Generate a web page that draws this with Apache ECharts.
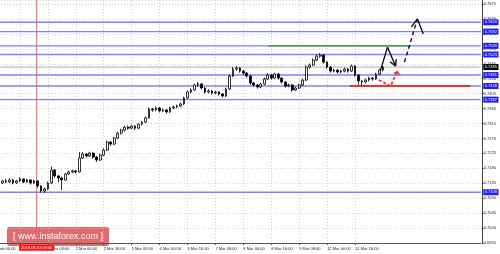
<!DOCTYPE html>
<html><head><meta charset="utf-8">
<script src="https://cdn.jsdelivr.net/npm/echarts@6/dist/echarts.min.js"></script>
<style>html,body{margin:0;padding:0;background:#fff;overflow:hidden;width:500px;height:254px}#c{position:absolute;left:-11px;top:0;width:511px;height:254px}</style>
</head><body><div id="c"></div>
<script>
// ---- data ----
const timeLabels = ['28 Feb 00:00','28 Feb 16:00','1 Mar 08:00','2 Mar 00:00','2 Mar 16:00','5 Mar 08:00','6 Mar 00:00','6 Mar 16:00','7 Mar 08:00','8 Mar 00:00','8 Mar 16:00','9 Mar 08:00','12 Mar 00:00','12 Mar 16:00'];
const barsPerLabel = 8;
const slotCount = 141;
// [open, close, low, high]
const ohlc = [
[0.7142,0.7139,0.7134,0.7146],[0.7139,0.7142,0.7135,0.7147],[0.7142,0.7136,0.7131,0.7145],[0.7136,0.7142,0.7133,0.7146],
[0.7142,0.7139,0.7135,0.7148],[0.7139,0.7145,0.7136,0.7150],[0.7145,0.7136,0.7132,0.7147],[0.7136,0.7142,0.7133,0.7145],
[0.7142,0.7148,0.7139,0.7153],[0.7148,0.7139,0.7135,0.7150],[0.7139,0.7145,0.7136,0.7149],[0.7145,0.7136,0.7131,0.7147],
[0.7136,0.7142,0.7133,0.7146],[0.7142,0.7127,0.7122,0.7144],[0.7127,0.7112,0.7107,0.7129],[0.7112,0.7118,0.7106,0.7122],
[0.7118,0.7136,0.7115,0.7140],[0.7136,0.7175,0.7133,0.7185],[0.7175,0.7157,0.7152,0.7178],[0.7157,0.7151,0.7138,0.7160],
[0.7151,0.7145,0.7114,0.7155],[0.7145,0.7163,0.7142,0.7166],[0.7163,0.7169,0.7160,0.7173],[0.7169,0.7172,0.7165,0.7176],
[0.7172,0.7169,0.7164,0.7175],[0.7169,0.7211,0.7167,0.7229],[0.7211,0.7223,0.7208,0.7229],[0.7223,0.7217,0.7212,0.7226],
[0.7217,0.7226,0.7214,0.7230],[0.7226,0.7214,0.7209,0.7228],[0.7214,0.7205,0.7199,0.7217],[0.7205,0.7220,0.7202,0.7224],
[0.7220,0.7235,0.7217,0.7240],[0.7235,0.7259,0.7232,0.7263],[0.7259,0.7253,0.7248,0.7262],[0.7253,0.7271,0.7250,0.7275],
[0.7271,0.7286,0.7268,0.7290],[0.7286,0.7295,0.7282,0.7299],[0.7295,0.7304,0.7291,0.7308],[0.7304,0.7301,0.7296,0.7309],
[0.7301,0.7307,0.7298,0.7311],[0.7307,0.7301,0.7295,0.7310],[0.7301,0.7313,0.7298,0.7316],[0.7313,0.7319,0.7309,0.7323],
[0.7319,0.7332,0.7316,0.7336],[0.7332,0.7359,0.7329,0.7364],[0.7359,0.7356,0.7350,0.7362],[0.7356,0.7362,0.7352,0.7366],
[0.7362,0.7353,0.7348,0.7365],[0.7353,0.7356,0.7349,0.7360],[0.7356,0.7350,0.7345,0.7359],[0.7350,0.7362,0.7347,0.7366],
[0.7362,0.7365,0.7358,0.7369],[0.7365,0.7368,0.7361,0.7372],[0.7368,0.7374,0.7364,0.7378],[0.7374,0.7392,0.7371,0.7396],
[0.7392,0.7410,0.7389,0.7414],[0.7410,0.7416,0.7406,0.7421],[0.7416,0.7431,0.7413,0.7435],[0.7431,0.7434,0.7426,0.7440],
[0.7434,0.7422,0.7418,0.7437],[0.7422,0.7410,0.7405,0.7425],[0.7410,0.7413,0.7406,0.7418],[0.7413,0.7407,0.7402,0.7416],
[0.7407,0.7410,0.7403,0.7414],[0.7410,0.7404,0.7399,0.7413],[0.7404,0.7398,0.7393,0.7407],[0.7398,0.7419,0.7395,0.7423],
[0.7419,0.7458,0.7416,0.7463],[0.7458,0.7479,0.7455,0.7485],[0.7479,0.7482,0.7474,0.7488],[0.7482,0.7473,0.7468,0.7485],
[0.7473,0.7467,0.7462,0.7476],[0.7467,0.7458,0.7453,0.7470],[0.7458,0.7437,0.7432,0.7461],[0.7437,0.7431,0.7426,0.7440],
[0.7431,0.7425,0.7420,0.7434],[0.7425,0.7434,0.7422,0.7438],[0.7434,0.7449,0.7431,0.7453],[0.7449,0.7461,0.7446,0.7467],
[0.7461,0.7452,0.7447,0.7464],[0.7452,0.7464,0.7449,0.7468],[0.7464,0.7452,0.7447,0.7467],[0.7452,0.7440,0.7435,0.7455],
[0.7440,0.7428,0.7423,0.7443],[0.7428,0.7431,0.7424,0.7435],[0.7431,0.7416,0.7411,0.7434],[0.7416,0.7422,0.7413,0.7426],
[0.7422,0.7431,0.7419,0.7435],[0.7431,0.7446,0.7428,0.7450],[0.7446,0.7485,0.7443,0.7490],[0.7485,0.7491,0.7481,0.7496],
[0.7491,0.7506,0.7488,0.7511],[0.7506,0.7518,0.7503,0.7524],[0.7518,0.7521,0.7513,0.7527],[0.7521,0.7500,0.7495,0.7524],
[0.7500,0.7485,0.7480,0.7503],[0.7485,0.7473,0.7468,0.7488],[0.7473,0.7476,0.7469,0.7480],[0.7476,0.7470,0.7465,0.7479],
[0.7470,0.7473,0.7466,0.7477],[0.7473,0.7479,0.7469,0.7483],[0.7479,0.7473,0.7468,0.7482],[0.7473,0.7488,0.7470,0.7493],
[0.7488,0.7461,0.7456,0.7491],[0.7461,0.7443,0.7432,0.7464],[0.7443,0.7440,0.7429,0.7446],[0.7440,0.7446,0.7436,0.7450],
[0.7446,0.7452,0.7442,0.7456],[0.7452,0.7449,0.7444,0.7455],[0.7449,0.7464,0.7446,0.7468],[0.7464,0.7476,0.7461,0.7480],
[0.7476,0.7485,0.7472,0.7489]
];
const levelLines = [0.7620, 0.7592, 0.7549, 0.7523, 0.7461, 0.7428, 0.7387, 0.7108];
const currentPrice = 0.7485;
const priceBase = 0.6955;
const priceStep = 0.0045;
const stepsShown = 16.27;
const resistanceLine = [[79, 0.7549], [120, 0.7549]];
const supportLine = [[102.5, 0.7428], [137, 0.7428]];
const crosshairIndex = 12.8;
const crosshairLabel = '2018.03.01 03:00';
const blackPath = [[111.3, 0.7476], [113.3, 0.7545], [115.6, 0.7488]];
const blackHead = [[114.0, 0.7501], [115.6, 0.7488], [115.8, 0.7509]];
const dashedPath = [[118.15, 0.7500], [121.8, 0.7628]];
const dashedHead = [[120.15, 0.7606], [121.86, 0.7630], [123.56, 0.7585]];
const redPath = [[110.8, 0.7446], [114.2, 0.7428], [116.1, 0.7471]];
const redHead = [[115.1, 0.7466], [116.1, 0.7471], [116.7, 0.7461]];

// ---- chart ----
const categories = Array.from({length: slotCount}, (_, i) =>
  (i % barsPerLabel === 0 && timeLabels[i / barsPerLabel]) ? timeLabels[i / barsPerLabel] : String(i));
const showTick = (i) => i % barsPerLabel === 0 && (i / barsPerLabel) < timeLabels.length;
const FONT = 'Liberation Sans';
const yTop = priceBase + priceStep * stepsShown;

function annot(data, color, width, type, z) {
  return { type: 'line', xAxisIndex: 1, yAxisIndex: 0, data: data, symbol: 'none', silent: true,
    lineStyle: { color: color, width: width, type: type }, itemStyle: { color: color },
    z: z == null ? 5 : z, animation: false };
}
function level(v, lineColor, boxColor, width) {
  const s = annot([[0, v], [slotCount - 1, v]], lineColor, width, 'solid', 1);
  s.endLabel = { show: true, distance: 2.5, formatter: () => v.toFixed(4), fontSize: 4, fontFamily: FONT,
    color: '#ffffff', backgroundColor: boxColor, padding: [1, 1.5, 0.5, 1.5], lineHeight: 4.5 };
  return s;
}

const crosshair = annot([[crosshairIndex, priceBase], [crosshairIndex, yTop]], '#e8605f', 1, 'solid', 2);
crosshair.markPoint = { symbol: 'rect', symbolSize: [0.1, 0.1], silent: true, animation: false,
  itemStyle: { color: 'rgba(0,0,0,0)' },
  data: [{ coord: [crosshairIndex, priceBase] }],
  label: { show: true, position: 'bottom', distance: 1.8, formatter: () => crosshairLabel, fontSize: 4, fontFamily: FONT,
    color: '#ffffff', backgroundColor: '#ff1010', padding: [1, 2, 0.5, 2], lineHeight: 4.5 } };

const chart = echarts.init(document.getElementById('c'), null, {renderer: 'canvas'});
chart.setOption({
  animation: false,
  backgroundColor: '#ffffff',
  grid: { left: 0, right: 19.25, top: 0, bottom: 11, containLabel: false },
  xAxis: [
    { type: 'category', data: categories, boundaryGap: false, position: 'bottom', offset: 3,
      axisLine: { lineStyle: { color: '#555', width: 1 } },
      axisTick: { show: true, interval: (i) => showTick(i), length: 2, lineStyle: { color: '#555' } },
      axisLabel: { interval: (i) => showTick(i), formatter: (v) => v, fontSize: 4, fontFamily: FONT,
        color: '#222', align: 'left', margin: 1 },
      splitLine: { show: true, interval: (i) => showTick(i), lineStyle: { color: '#c8c8c8', width: 0.8, type: [1, 2] } } },
    { type: 'value', min: 0, max: slotCount - 1, show: false }
  ],
  yAxis: [
    { type: 'value', min: priceBase, max: yTop, position: 'right',
      axisLine: { show: false }, axisTick: { show: false }, axisLabel: { show: false }, splitLine: { show: false } },
    { type: 'value', min: 0, max: stepsShown, interval: 1, position: 'right', offset: 1,
      axisLine: { show: true, lineStyle: { color: '#444', width: 1 } },
      axisTick: { show: true, length: 2, lineStyle: { color: '#444' } },
      axisLabel: { fontSize: 4, fontFamily: FONT, color: '#222', margin: 2, showMaxLabel: false,
        formatter: (v) => (priceBase + priceStep * v).toFixed(4) },
      splitLine: { show: true, lineStyle: { color: '#c8c8c8', width: 0.8, type: [1, 2] } } }
  ],
  series: [
    { type: 'candlestick', xAxisIndex: 0, yAxisIndex: 0, data: ohlc, barWidth: 2.2, z: 4,
      itemStyle: { color: '#ffffff', color0: '#000000', borderColor: '#000000', borderColor0: '#000000', borderWidth: 0.8 } },
    ...levelLines.map(v => level(v, '#7f7fff', '#1c1cff', 1.4)),
    level(currentPrice, '#9a9a9a', '#000000', 0.8),
    annot(resistanceLine, '#3aa83a', 1.5, 'solid', 3),
    crosshair,
    annot(supportLine, '#ee3030', 2.2, 'solid', 3),
    annot(blackPath, '#000000', 1.3, 'solid'),
    annot(blackHead, '#000000', 1.3, 'solid'),
    annot(dashedPath, '#000000', 1.3, [4, 3]),
    annot(dashedHead, '#000000', 1.3, 'solid'),
    annot(redPath, '#ff2a2a', 1.8, [3, 2]),
    annot(redHead, '#ff2a2a', 1.5, 'solid')
  ],
  graphic: [{ type: 'group', left: 18, top: 227, z: 100, children: [
    { type: 'rect', shape: { x: 0, y: 0, width: 102, height: 19, r: 2 }, style: { fill: 'rgba(214,48,48,0.72)' } },
    { type: 'text', x: 51, y: 10, style: { text: '[ www.instaforex.com ]', fill: '#ffffff', font: '9px "Liberation Sans"',
      textAlign: 'center', textVerticalAlign: 'middle' } }
  ] }]
});
</script>
</body></html>
